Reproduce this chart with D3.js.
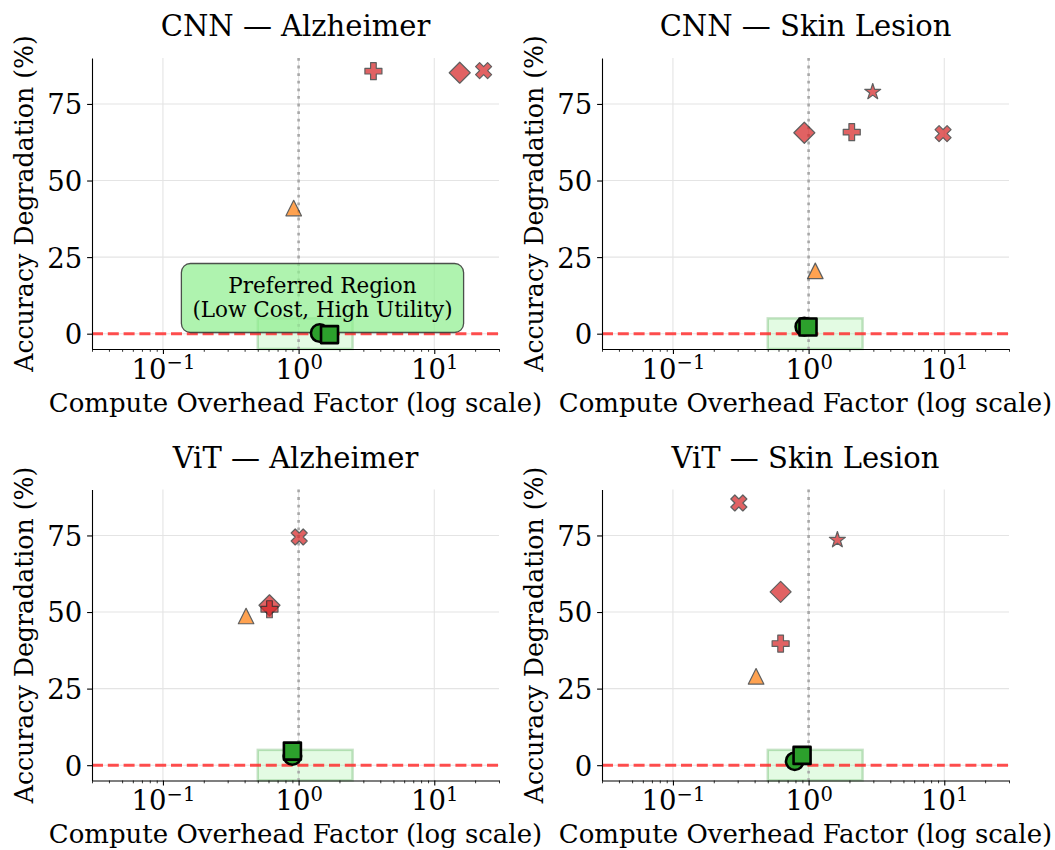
<!DOCTYPE html>
<html>
<head>
<meta charset="utf-8">
<script src="https://cdn.jsdelivr.net/npm/d3@7"></script>
<style>
  html, body { margin: 0; padding: 0; background: #ffffff; }
  svg { display: block; }
  text { font-family: "DejaVu Serif", serif; fill: #000; }
</style>
</head>
<body>
<svg id="chart" width="1055" height="850"></svg>
<script>
// ---------------- data ----------------
const panelTitles = ["CNN \u2014 Alzheimer", "CNN \u2014 Skin Lesion", "ViT \u2014 Alzheimer", "ViT \u2014 Skin Lesion"];
const xAxisLabel = "Compute Overhead Factor (log scale)";
const yAxisLabel = "Accuracy Degradation (%)";
const xTickValues = [0.1, 1, 10];
const xTickExponents = ["\u22121", "0", "1"];
const yTickValues = [0, 25, 50, 75];
const xDomain = [0.03, 30];
const yDomain = [-5, 90];

// drawing order of the methods (marker shapes)
const methodMarkers = ["triangle", "diamond", "plus", "x", "star", "circle", "square"];

const cnnAlzheimerX = [0.92, 15.4, 3.56, 23.1, null, 1.43, 1.69];
const cnnAlzheimerY = [41.0, 85.2, 85.7, 85.9, null, 0.2, -0.3];
const cnnSkinX = [1.12, 0.93, 2.08, 9.8, 2.97, 0.93, 0.99];
const cnnSkinY = [20.5, 65.6, 65.8, 65.3, 79.2, 2.3, 2.2];
const vitAlzheimerX = [0.41, 0.61, 0.61, 1.01, null, 0.90, 0.90];
const vitAlzheimerY = [48.7, 52.2, 50.9, 74.5, null, 3.0, 4.6];
const vitSkinX = [0.41, 0.622, 0.622, 0.306, 1.63, 0.79, 0.895];
const vitSkinY = [29.0, 56.6, 39.7, 85.6, 73.8, 1.3, 3.2];

const preferredX = [0.5, 2.5];
const preferredY = [-5, 5];
const referenceX = 1;
const referenceY = 0;
const annotationLines = ["Preferred Region", "(Low Cost, High Utility)"];
const annotationAt = [1.5, 11];

const panelX = [cnnAlzheimerX, cnnSkinX, vitAlzheimerX, vitSkinX];
const panelY = [cnnAlzheimerY, cnnSkinY, vitAlzheimerY, vitSkinY];

// ---------------- layout / style ----------------
const colLeft = [92, 602];
const colWidth = 407;
const rowTop = [58, 489.5];
const rowHeight = 291;

const markerStyle = {
  triangle: { fill: "#ff7f0e", stroke: "#222", sw: 1.2, op: 0.72, size: 15.5 },
  diamond:  { fill: "#d62728", stroke: "#222", sw: 1.2, op: 0.72, size: 21 },
  plus:     { fill: "#d62728", stroke: "#222", sw: 1.2, op: 0.72, size: 17 },
  x:        { fill: "#d62728", stroke: "#222", sw: 1.2, op: 0.72, size: 16 },
  star:     { fill: "#d62728", stroke: "#222", sw: 1.2, op: 0.72, size: 16 },
  circle:   { fill: "#2ca02c", stroke: "#000", sw: 2.6, op: 1, size: 17.5 },
  square:   { fill: "#2ca02c", stroke: "#000", sw: 2.6, op: 1, size: 17 }
};

function markerPath(shape, s) {
  const h = s / 2;
  const poly = pts => "M" + pts.map(p => p[0].toFixed(2) + "," + p[1].toFixed(2)).join("L") + "Z";
  switch (shape) {
    case "circle":
      return `M${h},0A${h},${h} 0 1,1 ${-h},0A${h},${h} 0 1,1 ${h},0Z`;
    case "square":
      return `M${-h},${-h}H${h}V${h}H${-h}Z`;
    case "triangle":
      return `M0,${-h}L${h},${h}L${-h},${h}Z`;
    case "diamond":
      return `M0,${-h}L${h},0L0,${h}L${-h},0Z`;
    case "plus": {
      const a = s / 6, b = h;
      return poly([[-a,-b],[a,-b],[a,-a],[b,-a],[b,a],[a,a],[a,b],[-a,b],[-a,a],[-b,a],[-b,-a],[-a,-a]]);
    }
    case "x": {
      const base = [[-1,-2],[0,-1],[1,-2],[2,-1],[1,0],[2,1],[1,2],[0,1],[-1,2],[-2,1],[-1,0],[-2,-1]];
      return poly(base.map(p => [p[0] * s / 4, p[1] * s / 4]));
    }
    case "star": {
      const R = s / 2 / 0.951, r = R * 0.381966;
      const pts = [];
      for (let i = 0; i < 10; i++) {
        const ang = -Math.PI / 2 + i * Math.PI / 5;
        const rr = i % 2 === 0 ? R : r;
        pts.push([rr * Math.cos(ang), rr * Math.sin(ang) + R * 0.1]);
      }
      return poly(pts);
    }
  }
}

const svg = d3.select("#chart");

panelTitles.forEach((title, i) => {
  const col = i % 2, row = Math.floor(i / 2);
  const x0 = colLeft[col], y0 = rowTop[row];
  const x = d3.scaleLog().domain(xDomain).range([x0, x0 + colWidth]);
  const y = d3.scaleLinear().domain(yDomain).range([y0 + rowHeight, y0]);
  const g = svg.append("g");

  // grid
  g.selectAll(".gx").data(xTickValues).join("line")
    .attr("x1", d => x(d)).attr("x2", d => x(d))
    .attr("y1", y0).attr("y2", y0 + rowHeight)
    .attr("stroke", "#e4e4e4").attr("stroke-width", 1.1);
  g.selectAll(".gy").data(yTickValues).join("line")
    .attr("x1", x0).attr("x2", x0 + colWidth)
    .attr("y1", d => y(d)).attr("y2", d => y(d))
    .attr("stroke", "#e4e4e4").attr("stroke-width", 1.1);

  // preferred region rectangle
  g.append("rect")
    .attr("x", x(preferredX[0])).attr("y", y(preferredY[1]))
    .attr("width", x(preferredX[1]) - x(preferredX[0]))
    .attr("height", y(preferredY[0]) - y(preferredY[1]))
    .attr("fill", "#90ee90").attr("fill-opacity", 0.25)
    .attr("stroke", "green").attr("stroke-opacity", 0.22).attr("stroke-width", 2.5);

  // reference lines
  g.append("line")
    .attr("x1", x(referenceX)).attr("x2", x(referenceX))
    .attr("y1", y0).attr("y2", y0 + rowHeight)
    .attr("stroke", "#a8a8a8").attr("stroke-width", 2.6)
    .attr("stroke-dasharray", "2.8,4.8");
  g.append("line")
    .attr("x1", x0).attr("x2", x0 + colWidth)
    .attr("y1", y(referenceY)).attr("y2", y(referenceY))
    .attr("stroke", "#ff3030").attr("stroke-opacity", 0.85).attr("stroke-width", 3)
    .attr("stroke-dasharray", "11,4.8");

  // annotation in first panel
  if (i === 0) {
    const ax = x(annotationAt[0]), ay = y(annotationAt[1]);
    const ag = g.append("g");
    const boxRect = ag.append("rect");
    const txt = ag.append("text").attr("text-anchor", "middle").style("font-size", "21.5px");
    annotationLines.forEach((line, k) => {
      txt.append("tspan").attr("x", ax).attr("y", ay - 6.5 + k * 24).text(line);
    });
    const bb = txt.node().getBBox();
    const pad = 11;
    boxRect.attr("x", bb.x - pad).attr("y", bb.y - pad + 1)
      .attr("width", bb.width + 2 * pad).attr("height", bb.height + 2 * pad - 2)
      .attr("rx", 9).attr("ry", 9)
      .attr("fill", "#90ee90").attr("fill-opacity", 0.72)
      .attr("stroke", "#333").attr("stroke-opacity", 0.85).attr("stroke-width", 1.3);
  }

  // markers
  const pts = methodMarkers.map((m, k) => ({ m, xv: panelX[i][k], yv: panelY[i][k] }))
    .filter(d => d.xv !== null && d.yv !== null);
  g.selectAll(".mk").data(pts).join("path")
    .attr("d", d => markerPath(d.m, markerStyle[d.m].size))
    .attr("transform", d => `translate(${x(d.xv)},${y(d.yv)})`)
    .attr("fill", d => markerStyle[d.m].fill)
    .attr("stroke", d => markerStyle[d.m].stroke)
    .attr("stroke-width", d => markerStyle[d.m].sw)
    .attr("stroke-linejoin", "round")
    .attr("opacity", d => markerStyle[d.m].op);

  // axes
  const minorTicks = [];
  for (let e = -2; e <= 1; e++) for (let m = 2; m <= 9; m++) {
    const v = m * Math.pow(10, e);
    if (v >= xDomain[0] && v <= xDomain[1]) minorTicks.push(v);
  }
  const xMinor = g.append("g").attr("transform", `translate(0,${y0 + rowHeight})`)
    .call(d3.axisBottom(x).tickValues(minorTicks).tickFormat("").tickSize(2.8).tickSizeOuter(0));
  xMinor.select(".domain").remove();
  xMinor.selectAll("line").attr("stroke", "#000").attr("stroke-width", 0.8);

  const xAx = g.append("g").attr("transform", `translate(0,${y0 + rowHeight})`)
    .call(d3.axisBottom(x).tickValues(xTickValues).tickFormat("").tickSize(4.9).tickPadding(4.9).tickSizeOuter(0));
  xAx.select(".domain").attr("stroke", "#000").attr("stroke-width", 1.1);
  xAx.selectAll(".tick line").attr("stroke", "#000").attr("stroke-width", 1.1);
  xAx.selectAll(".tick text").each(function(d, k) {
    const t = d3.select(this);
    t.attr("y", null).attr("dy", null).attr("fill", "#000")
      .style("font-size", "27.5px").attr("text-anchor", "middle");
    t.append("tspan").attr("x", 0).attr("y", 29.5).text("10");
    t.append("tspan").attr("dy", -9.5).style("font-size", "19.5px").text(xTickExponents[k]);
  });

  const yAx = g.append("g").attr("transform", `translate(${x0},0)`)
    .call(d3.axisLeft(y).tickValues(yTickValues).tickSize(4.9).tickPadding(4.9).tickSizeOuter(0));
  yAx.select(".domain").attr("stroke", "#000").attr("stroke-width", 1.1);
  yAx.selectAll(".tick line").attr("stroke", "#000").attr("stroke-width", 1.1);
  yAx.selectAll(".tick text").attr("fill", "#000").style("font-size", "27.5px")
    .attr("dy", "0.36em");
  svg.selectAll(".tick text").style("font-family", "DejaVu Serif");

  // titles & labels
  g.append("text").attr("x", x0 + colWidth / 2).attr("y", y0 - 22)
    .attr("text-anchor", "middle").style("font-size", "29px").text(title);
  g.append("text").attr("x", x0 + colWidth / 2).attr("y", y0 + rowHeight + 62.5)
    .attr("text-anchor", "middle").style("font-size", "26px").text(xAxisLabel);
  g.append("text")
    .attr("transform", `translate(${x0 - 59},${y0 + rowHeight / 2}) rotate(-90)`)
    .attr("text-anchor", "middle").style("font-size", "25.2px").text(yAxisLabel);
});
</script>
</body>
</html>
